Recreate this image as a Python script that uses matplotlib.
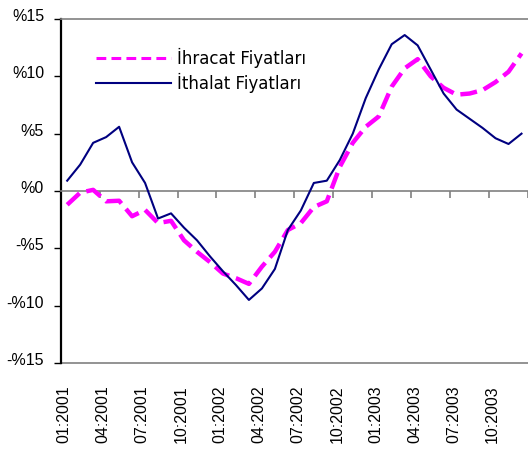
import matplotlib
matplotlib.use("Agg")
import matplotlib.pyplot as plt
from matplotlib.lines import Line2D
import matplotlib.transforms as mtransforms
import numpy as np

months = ["01:2001", "02:2001", "03:2001", "04:2001", "05:2001", "06:2001",
          "07:2001", "08:2001", "09:2001", "10:2001", "11:2001", "12:2001",
          "01:2002", "02:2002", "03:2002", "04:2002", "05:2002", "06:2002",
          "07:2002", "08:2002", "09:2002", "10:2002", "11:2002", "12:2002",
          "01:2003", "02:2003", "03:2003", "04:2003", "05:2003", "06:2003",
          "07:2003", "08:2003", "09:2003", "10:2003", "11:2003", "12:2003"]

ihracat = [-1.2, -0.15, 0.1, -0.9, -0.85, -2.2, -1.65, -2.8, -2.6, -4.3,
           -5.3, -6.2, -7.2, -7.6, -8.1, -6.6, -5.3, -3.4, -2.8, -1.4,
           -0.9, 2.1, 4.2, 5.6, 6.5, 9.1, 10.7, 11.5, 10.0, 9.0,
           8.4, 8.5, 8.8, 9.5, 10.4, 12.0]

ithalat = [0.9, 2.3, 4.2, 4.7, 5.6, 2.5, 0.7, -2.4, -1.95, -3.2,
           -4.3, -5.7, -7.0, -8.2, -9.5, -8.5, -6.8, -3.4, -1.7, 0.7,
           0.9, 2.7, 5.0, 8.1, 10.6, 12.8, 13.6, 12.7, 10.6, 8.5,
           7.1, 6.3, 5.5, 4.6, 4.1, 5.0]

tick_labels = ["01:2001", "04:2001", "07:2001", "10:2001", "01:2002", "04:2002",
               "07:2002", "10:2002", "01:2003", "04:2003", "07:2003", "10:2003"]

y_ticks = [-15, -10, -5, 0, 5, 10, 15]
y_labels = ["-%15", "-%10", "-%5", "%0", "%5", "%10", "%15"]

series_names = ["İhracat Fiyatları", "İthalat Fiyatları"]

MAGENTA = "#FF00FF"
NAVY = "#000080"
GRAY = "#808080"

W, H = 528, 450
fig = plt.figure(figsize=(W / 100, H / 100), dpi=100)
left_px, right_px, top_px, bot_px = 60.7, 528, 19, 363
ax = fig.add_axes([left_px / W, 1 - bot_px / H, (right_px - left_px) / W, (bot_px - top_px) / H])

x = np.arange(len(months))
ax.plot(x, ihracat, color=MAGENTA, lw=3.2, dashes=(3.8, 1.6), solid_capstyle="butt", zorder=3)
ax.plot(x, ithalat, color=NAVY, lw=1.5, zorder=4)

step_px = 13.1
ax.set_xlim(-0.5, -0.5 + (right_px - left_px) / step_px)
ax.set_ylim(-15, 15)

ax.set_yticks(y_ticks)
ax.set_yticklabels(y_labels, fontfamily="Liberation Sans", fontsize=11.5)
ax.tick_params(axis="y", direction="out", length=5, width=1, color="black", pad=7)
yoff = mtransforms.ScaledTranslation(0, 4 / 100, fig.dpi_scale_trans)
for lab in ax.get_yticklabels():
    lab.set_transform(lab.get_transform() + yoff)

ax.spines["left"].set_color("black")
ax.spines["left"].set_linewidth(1.6)
ax.spines["right"].set_visible(False)
ax.spines["top"].set_color(GRAY)
ax.spines["top"].set_linewidth(1.2)
ax.spines["bottom"].set_position(("data", 0))
ax.spines["bottom"].set_color(GRAY)
ax.spines["bottom"].set_linewidth(1.2)

ax.set_xticks(np.arange(2.5, len(months), 3))
ax.tick_params(axis="x", direction="out", length=5, width=1.2, color=GRAY, labelbottom=False)

sec = ax.secondary_xaxis("bottom")
label_idx = [months.index(m) for m in tick_labels]
sec.set_xticks(label_idx)
sec.set_xticklabels(tick_labels, rotation=90, fontfamily="Liberation Sans", fontsize=11.5)
sec.tick_params(length=0, pad=16)
sec.spines["bottom"].set_color(GRAY)
sec.spines["bottom"].set_linewidth(1.2)
offset = mtransforms.ScaledTranslation(-3 / 100, 0, fig.dpi_scale_trans)
for lab in sec.get_xticklabels():
    lab.set_transform(lab.get_transform() + offset)

handles = [Line2D([], [], color=MAGENTA, lw=2.2, dashes=(3.2, 1.7)),
           Line2D([], [], color=NAVY, lw=1.5)]
leg = fig.legend(handles, series_names, loc="upper left",
                 bbox_to_anchor=(96 / W, 1 - 48 / H), frameon=False,
                 borderpad=0, borderaxespad=0, handlelength=4.5, handletextpad=0.35,
                 labelspacing=0.3, prop={"family": "DejaVu Sans", "size": 12})

fig.savefig("out.png", dpi=100)
